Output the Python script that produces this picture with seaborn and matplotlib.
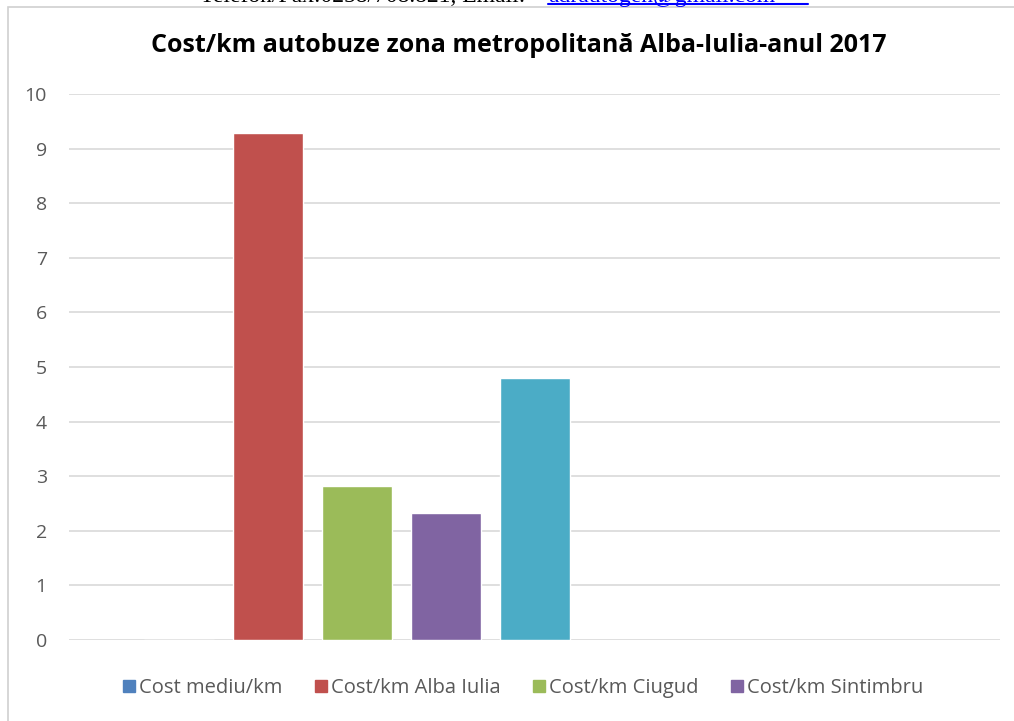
import matplotlib
matplotlib.use('Agg')
import matplotlib.pyplot as plt
from matplotlib.lines import Line2D
from matplotlib.patches import Rectangle
import seaborn as sns
import pandas as pd

# valorile
serii = ['Cost mediu/km', 'Cost/km Alba Iulia', 'Cost/km Ciugud', 'Cost/km Sintimbru', 'Serie 5']
valori = [0.0, 9.28, 2.82, 2.32, 4.80]
culori = ['#4F81BD', '#C0504D', '#9BBB59', '#8064A2', '#4BACC6']
serii_legenda = serii[:4]
y_ticks = list(range(0, 11))

titlu = 'Cost/km autobuze zona metropolitană Alba-Iulia-anul 2017'

df = pd.DataFrame({'serie': serii, 'valoare': valori})

sns.set_style('white')
plt.rcParams['font.family'] = ['Open Sans', 'DejaVu Sans']

fig = plt.figure(figsize=(10.14, 7.21), dpi=100)
ax = fig.add_axes([69 / 1014, 1 - 640 / 721, (1000 - 69) / 1014, (640 - 94) / 721])

sns.barplot(data=df, x='serie', y='valoare', hue='serie', order=serii, hue_order=serii,
            palette=culori, width=0.79, legend=False, saturation=1, ax=ax)

ax.set_ylim(0, 10)
ax.set_xlim(-1.236, 9.22)
ax.set_yticks(y_ticks)
ax.set_xticks([])
ax.set_xlabel('')
ax.set_ylabel('')
ax.yaxis.grid(True, color='#D9D9D9', linewidth=1.2)
ax.set_axisbelow(True)
for s in ax.spines.values():
    s.set_visible(False)
ax.tick_params(axis='y', length=0, pad=16, labelsize=14, labelcolor='#595959')

fig.text(0.512, 1 - 45 / 721, titlu, ha='center', va='center', fontsize=18,
         fontweight='bold', color='black')

# chenarul graficului
fig.add_artist(Rectangle((8 / 1014, -0.1), 1.2, 1 - 7 / 721 + 0.1, transform=fig.transFigure,
                         fill=False, edgecolor='#D0D0D0', linewidth=1.2))

# antetul documentului, taiat sus
fig.text(200 / 1014, 1 - 2 / 721, 'Telefon/Fax:0258/708.821, Email:', ha='left', va='baseline',
         fontsize=17, family='Liberation Serif', color='black')
fig.text(548 / 1014, 1 - 2 / 721, 'adrautogen@gmail.com', ha='left', va='baseline',
         fontsize=17, family='Liberation Serif', color='#0000FF')
fig.add_artist(Line2D([548 / 1014, 808 / 1014], [1 - 4 / 721, 1 - 4 / 721],
                      transform=fig.transFigure, color='#0000FF', linewidth=1.5))

handles = [Line2D([0], [0], marker='s', linestyle='', markersize=9, color=c)
           for c in culori[:4]]
fig.legend(handles, serii_legenda, loc='center', bbox_to_anchor=(0.516, 1 - 688 / 721),
           ncol=4, frameon=False, fontsize=14.5, labelcolor='#595959',
           handlelength=0.6, handletextpad=0.2, columnspacing=1.6)

fig.savefig('out.png', dpi=100)
